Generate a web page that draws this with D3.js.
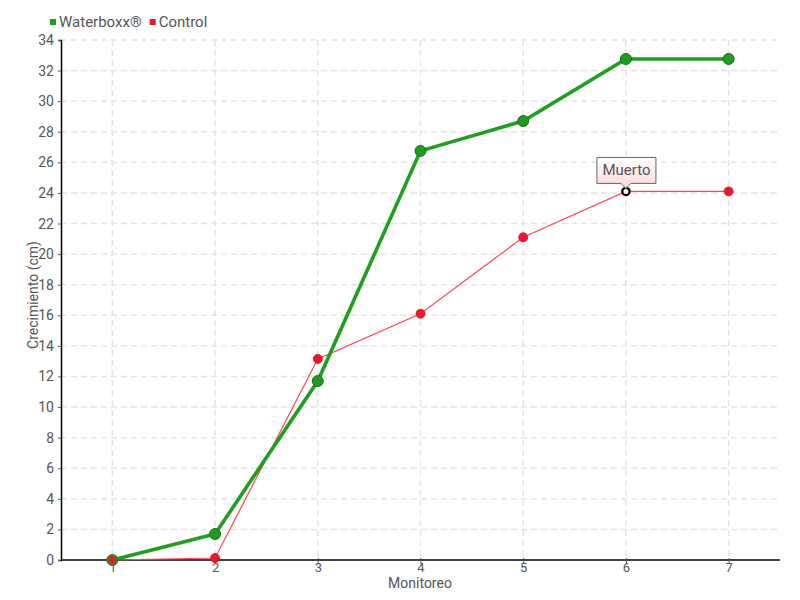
<!DOCTYPE html>
<html><head><meta charset="utf-8">
<script src="https://cdn.jsdelivr.net/npm/d3@7"></script>
<style>
body{margin:0;background:#fff;}
text{font-family:Roboto,"DejaVu Sans",sans-serif;}
</style></head>
<body><svg id="c" width="800" height="600"></svg>
<script>
const categories = [1,2,3,4,5,6,7];
const waterboxx = [0, 1.7, 11.7, 26.75, 28.7, 32.76, 32.76];
const control = [0, 0.13, 13.15, 16.1, 21.1, 24.1, 24.1];
const yTicks = d3.range(0, 35, 2);
const seriesNames = ["Waterboxx®", "Control"];
const annotation = {index: 5, text: "Muerto"};

const svg = d3.select("#c");
const L = 61, R = 780, T = 40, B = 560;
const x = d3.scaleLinear().domain([0.5, 7.5]).range([L, R]);
const y = d3.scaleLinear().domain([0, 34]).range([B, T]);

const g = svg.append("g");
g.selectAll(".hg").data(yTicks.filter(d=>d>0)).join("line")
  .attr("x1", L).attr("x2", R).attr("y1", d=>y(d)).attr("y2", d=>y(d))
  .attr("stroke", "#e3e3e3").attr("stroke-width", 1.5).attr("stroke-dasharray", "6,4");
g.selectAll(".vg").data(categories).join("line")
  .attr("x1", d=>x(d)).attr("x2", d=>x(d)).attr("y1", T).attr("y2", B)
  .attr("stroke", "#e3e3e3").attr("stroke-width", 1.5).attr("stroke-dasharray", "6,4");

const yAxis = d3.axisLeft(y).tickValues(yTicks).tickSize(3).tickPadding(4).tickFormat(d3.format("d"));
const ya = svg.append("g").attr("transform", `translate(${L},0)`).call(yAxis);
ya.select(".domain").attr("stroke", "#000").attr("stroke-width", 1.5);
ya.selectAll(".tick line").attr("stroke", "#555");
ya.selectAll(".tick text").attr("fill", "#555").attr("font-size", 14);

const xAxis = d3.axisBottom(x).tickValues(categories).tickSize(4).tickPadding(-1).tickSizeOuter(0).tickFormat(d3.format("d"));
const xa = svg.append("g").attr("transform", `translate(0,${B})`).call(xAxis);
xa.select(".domain").attr("stroke", "#000").attr("stroke-width", 1.5).attr("d", `M${L},0H${R}`);
xa.selectAll(".tick line").attr("stroke", "#555").attr("y1", -2);
xa.selectAll(".tick text").attr("fill", "#555").attr("font-size", 13);

svg.append("text").attr("x", 420).attr("y", 588).attr("text-anchor", "middle")
  .attr("fill", "#555").attr("font-size", 14).text("Monitoreo");
svg.append("text").attr("transform", `translate(38,${(T+B)/2 - 5}) rotate(-90)`).attr("text-anchor", "middle")
  .attr("fill", "#555").attr("font-size", 14).text("Crecimiento (cm)");

const line = d3.line().x((d,i)=>x(categories[i])).y(d=>y(d));
svg.append("path").datum(control).attr("d", line).attr("fill", "none")
  .attr("stroke", "#ff4455").attr("stroke-width", 1.2);
svg.append("path").datum(waterboxx).attr("d", line).attr("fill", "none")
  .attr("stroke", "#1f9e1f").attr("stroke-width", 3.6);

svg.selectAll(".cp").data(control).join("circle")
  .attr("cx", (d,i)=>x(categories[i])).attr("cy", d=>y(d)).attr("r", 4.5)
  .attr("fill", "#e8192c").attr("stroke", "#cc1122").attr("stroke-width", 0.8);
svg.selectAll(".wp").data(waterboxx).join("circle")
  .attr("cx", (d,i)=>x(categories[i])).attr("cy", d=>y(d)).attr("r", 5.5)
  .attr("fill", "#229922").attr("stroke", "#167016").attr("stroke-width", 1);
svg.append("circle").attr("cx", x(categories[0])).attr("cy", y(control[0])).attr("r", 4.5)
  .attr("fill", "#e8192c").attr("stroke", "#3a8a2a").attr("stroke-width", 1.2);

const ax = x(categories[annotation.index]), ay = y(control[annotation.index]);
svg.append("circle").attr("cx", ax).attr("cy", ay).attr("r", 3.5)
  .attr("fill", "#fff").attr("stroke", "#000").attr("stroke-width", 2);

const defs = svg.append("defs");
const grad = defs.append("linearGradient").attr("id", "tg").attr("x1",0).attr("y1",0).attr("x2",0).attr("y2",1);
grad.append("stop").attr("offset","0%").attr("stop-color","#ffffff");
grad.append("stop").attr("offset","100%").attr("stop-color","#fcd8d8");
const bx = ax - 29, by = ay - 34, bw = 59, bh = 26;
svg.append("path")
  .attr("d", `M${bx},${by} H${bx+bw} V${by+bh} H${ax+5} L${ax},${by+bh+5} L${ax-5},${by+bh} H${bx} Z`)
  .attr("fill", "url(#tg)").attr("stroke", "#666").attr("stroke-width", 1);
svg.append("text").attr("x", bx + bw/2).attr("y", by + 18).attr("text-anchor", "middle")
  .attr("fill", "#555").attr("font-size", 15).text(annotation.text);

const colors = ["#22a022", "#e8192c"];
let lxp = 50;
seriesNames.forEach((n,i)=>{
  svg.append("rect").attr("x", lxp).attr("y", 19).attr("width", 6).attr("height", 6).attr("fill", colors[i]);
  const t = svg.append("text").attr("x", lxp+9).attr("y", 27).attr("fill", "#555").attr("font-size", 15).text(n);
  lxp += 9 + t.node().getComputedTextLength() + 8;
});
</script></body></html>
